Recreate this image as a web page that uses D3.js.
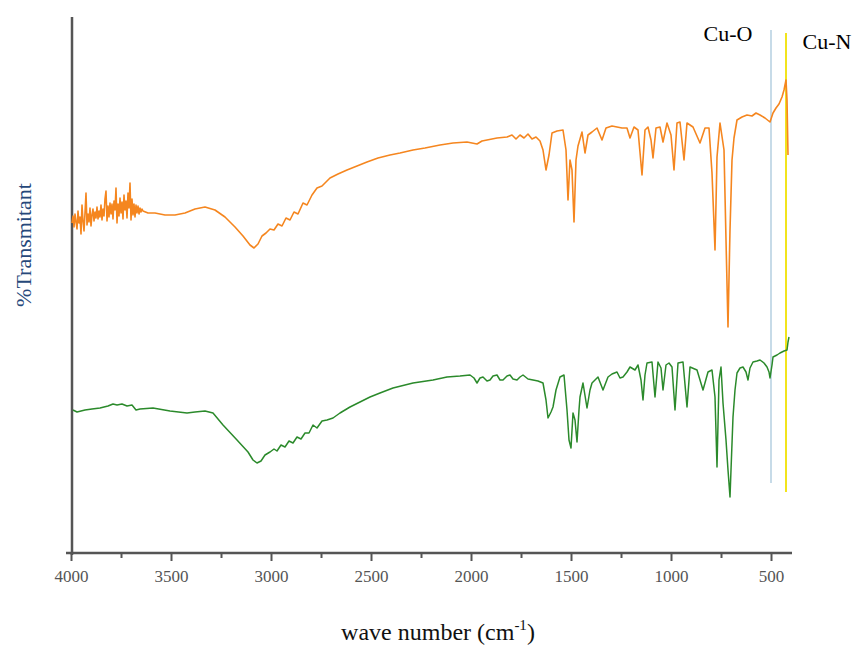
<!DOCTYPE html>
<html>
<head>
<meta charset="utf-8">
<style>
    body { margin: 0; background: #fff; }
    svg { display: block; }
</style>
</head>
<body>
<svg id="chart" width="857" height="646"></svg>
<script src="https://cdn.jsdelivr.net/npm/d3@7"></script>
<script>
    // wavenumber (cm-1), transmittance (arbitrary %T)
    const orangeSpectrum = [
        [3995,66.0],[3990,67.4],[3985,65.2],[3980,67.8],[3975,66.2],[3970,64.8],[3965,68.4],[3960,66.0],
        [3955,67.2],[3950,63.8],[3945,69.6],[3940,66.4],[3935,64.4],[3930,68.0],[3925,72.0],[3920,65.6],
        [3915,67.8],[3910,66.2],[3905,69.0],[3900,65.4],[3895,67.6],[3890,68.8],[3885,66.4],[3880,68.2],
        [3875,67.0],[3870,69.2],[3865,66.8],[3860,68.4],[3855,67.2],[3850,69.6],[3845,66.6],[3840,68.8],
        [3835,67.4],[3830,70.8],[3825,72.4],[3820,66.4],[3815,69.4],[3810,67.2],[3805,70.0],[3800,67.8],
        [3795,69.8],[3790,66.8],[3785,70.4],[3780,68.6],[3775,73.0],[3770,66.0],[3765,69.8],[3760,67.4],
        [3755,71.0],[3750,68.0],[3745,70.2],[3740,66.8],[3735,71.6],[3730,68.6],[3725,70.4],[3720,67.0],
        [3715,72.0],[3710,69.0],[3705,74.0],[3700,66.6],[3695,70.8],[3690,67.6],[3685,69.8],[3680,67.2],
        [3675,69.6],[3670,68.0],[3665,69.4],[3660,67.8],[3655,69.0],[3650,68.2],[3645,68.8],[3640,68.4],
        [3615,68.0],[3580,68.0],[3530,67.6],[3480,67.6],
        [3430,68.0],[3380,68.8],[3330,69.2],[3280,68.6],[3230,67.2],[3180,65.2],[3140,63.4],[3105,61.6],
        [3085,61.0],[3065,61.8],[3045,63.4],[3025,64.0],[3005,64.8],[2985,64.6],[2965,65.8],[2945,65.4],
        [2925,67.0],[2905,66.6],[2885,68.2],[2865,67.8],[2840,70.0],[2820,69.6],[2795,71.6],[2770,73.0],
        [2745,73.4],[2705,75.0],[2665,75.8],[2620,76.6],[2570,77.4],[2520,78.2],[2465,79.0],[2405,79.6],
        [2355,80.0],[2290,80.6],[2230,81.0],[2155,81.6],[2090,82.0],[2020,82.2],[1970,81.8],[1945,82.4],
        [1920,82.6],[1870,83.0],[1820,83.2],[1795,83.6],[1775,82.8],[1755,83.6],[1735,83.0],[1715,83.8],
        [1695,82.8],[1675,83.2],[1655,82.4],[1640,80.6],[1625,76.6],[1610,79.6],[1595,84.0],[1570,84.4],
        [1540,84.6],[1525,80.6],[1515,70.6],[1505,78.6],[1495,76.6],[1485,66.2],[1475,78.6],[1465,81.4],
        [1445,84.2],[1430,80.0],[1415,83.6],[1395,84.2],[1370,85.0],[1345,82.6],[1325,85.0],[1295,85.4],
        [1270,85.2],[1245,85.0],[1220,85.0],[1205,83.0],[1185,85.2],[1165,84.6],[1145,75.6],[1130,84.6],
        [1115,85.2],[1100,82.6],[1090,79.0],[1075,85.0],[1055,85.2],[1040,82.2],[1020,86.0],[1000,83.6],
        [985,76.6],[970,86.0],[955,86.2],[935,78.6],[920,86.0],[890,85.2],[855,82.0],[830,85.0],
        [810,85.0],[795,76.0],[780,60.6],[770,79.2],[755,86.0],[735,80.6],[725,62.6],[715,45.2],
        [705,64.6],[695,78.6],[685,83.0],[670,86.6],[645,87.2],[620,87.6],[595,87.4],[575,88.0],
        [555,87.6],[530,87.0],[505,86.2],[490,88.0],[475,89.0],[460,89.8],[445,91.2],[435,92.6],
        [425,94.6],[420,90.6],[415,79.6]
    ];

    const greenSpectrum = [
        [3990,28.6],[3970,28.2],[3930,28.6],[3895,28.8],[3855,29.0],[3815,29.4],[3790,29.8],[3770,29.6],
        [3745,29.8],[3720,29.4],[3695,29.6],[3675,28.6],[3655,28.8],[3590,29.0],[3505,28.4],[3420,28.0],
        [3380,28.2],[3330,28.4],[3290,28.0],[3240,25.6],[3170,22.6],[3115,20.2],[3090,18.6],[3070,18.0],
        [3050,18.4],[3030,19.6],[3005,20.2],[2985,20.8],[2970,20.4],[2950,21.6],[2930,21.2],[2910,22.4],
        [2890,22.0],[2870,23.2],[2850,22.8],[2830,24.0],[2810,24.0],[2790,25.6],[2770,25.0],[2745,26.4],
        [2720,26.6],[2690,27.0],[2655,28.0],[2605,29.2],[2555,30.2],[2505,31.2],[2455,32.0],[2390,33.0],
        [2290,34.0],[2190,34.6],[2120,35.2],[2055,35.4],[2005,35.6],[1985,35.0],[1970,34.0],[1955,35.0],
        [1940,35.2],[1920,34.4],[1905,34.6],[1890,35.4],[1870,35.6],[1855,34.6],[1840,34.6],[1820,35.4],
        [1805,35.6],[1790,34.8],[1770,34.6],[1755,35.2],[1740,35.6],[1715,34.8],[1690,34.6],[1665,34.4],
        [1640,34.0],[1625,30.6],[1615,27.0],[1600,28.2],[1590,29.2],[1575,32.6],[1555,35.2],[1535,35.6],
        [1520,28.6],[1510,22.6],[1500,21.0],[1490,28.0],[1480,26.6],[1470,22.2],[1460,28.6],[1455,31.2],
        [1440,34.0],[1420,29.0],[1405,32.6],[1395,34.0],[1365,35.2],[1340,32.6],[1315,35.2],[1295,35.8],
        [1270,36.2],[1255,35.0],[1240,35.2],[1220,36.2],[1205,37.2],[1180,36.6],[1165,37.6],[1150,34.6],
        [1140,30.6],[1130,35.6],[1120,38.0],[1095,38.2],[1080,31.2],[1065,38.2],[1050,37.0],[1040,32.6],
        [1025,37.6],[1010,38.0],[995,37.2],[980,28.6],[965,38.0],[940,38.2],[920,29.2],[905,37.2],
        [870,36.6],[840,32.6],[815,36.2],[795,36.6],[780,31.2],[770,17.2],[760,34.6],[750,37.2],
        [740,30.0],[725,22.6],[715,16.6],[705,11.2],[700,16.6],[690,27.2],[680,32.6],[670,36.0],
        [655,37.0],[640,37.2],[625,36.2],[615,34.6],[605,37.0],[590,38.2],[570,38.4],[555,38.6],
        [535,38.0],[520,37.2],[510,36.2],[505,35.0],[495,37.6],[490,39.2],[470,39.6],[455,40.0],
        [435,40.4],[420,40.6],[415,42.2],[410,43.2]
    ];

    const majorTicks = [4000, 3500, 3000, 2500, 2000, 1500, 1000, 500];
    const minorTicks = [3750, 3250, 2750, 2250, 1750, 1250, 750];

    // band markers: label, wavenumber, top and bottom in %T
    const markerLabels = ["Cu-O", "Cu-N"];
    const markerWn = [500, 425];
    const markerTop = [104.6, 104.0];
    const markerBottom = [14.0, 12.2];
    const markerColors = ["#a9c8dc", "#f2e41c"];

    const svg = d3.select("#chart");

    const x = d3.scaleLinear().domain([4000, 400]).range([71, 791]);
    const y = d3.scaleLinear().domain([0, 107.2]).range([553, 17]);

    // axes
    const xAxisMajor = d3.axisBottom(x).tickValues(majorTicks).tickSize(8).tickPadding(9)
        .tickFormat(d3.format("d")).tickSizeOuter(0);
    const xAxisMinor = d3.axisBottom(x).tickValues(minorTicks).tickSize(5).tickFormat("").tickSizeOuter(0);

    let gx = svg.append("g").attr("transform", "translate(0,553)").call(xAxisMajor);
    gx.select(".domain").remove();
    gx.selectAll(".tick line").attr("stroke", "#555").attr("stroke-width", 2);
    gx.selectAll(".tick text")
        .attr("font-family", "Liberation Serif, serif")
        .attr("font-size", 17).attr("fill", "#555");

    let gxm = svg.append("g").attr("transform", "translate(0,553)").call(xAxisMinor);
    gxm.select(".domain").remove();
    gxm.selectAll(".tick line").attr("stroke", "#555").attr("stroke-width", 2);

    svg.append("line")
        .attr("x1", 66).attr("x2", x(395))
        .attr("y1", 553).attr("y2", 553)
        .attr("stroke", "#555").attr("stroke-width", 2.5);

    svg.append("line")
        .attr("x1", 72).attr("x2", 72)
        .attr("y1", 17).attr("y2", 555)
        .attr("stroke", "#555").attr("stroke-width", 2.5);

    // marker lines
    markerWn.forEach((w, i) => {
        svg.append("line")
            .attr("x1", x(w)).attr("x2", x(w))
            .attr("y1", y(markerTop[i])).attr("y2", y(markerBottom[i]))
            .attr("stroke", markerColors[i]).attr("stroke-width", i == 0 ? 1.3 : 2);
    });

    // spectra
    let line = d3.line().x(d => x(d[0])).y(d => y(d[1]));

    svg.append("path")
        .datum(greenSpectrum)
        .attr("d", line)
        .attr("fill", "none")
        .attr("stroke", "#2b8a2b")
        .attr("stroke-width", 1.5)
        .attr("stroke-linejoin", "round");

    svg.append("path")
        .datum(orangeSpectrum)
        .attr("d", line)
        .attr("fill", "none")
        .attr("stroke", "#f5861f")
        .attr("stroke-width", 1.6)
        .attr("stroke-linejoin", "round");

    // labels
    svg.append("text")
        .attr("x", 728).attr("y", 41)
        .attr("text-anchor", "middle")
        .attr("font-family", "Liberation Serif, serif")
        .attr("font-size", 22)
        .text(markerLabels[0]);

    svg.append("text")
        .attr("x", 827).attr("y", 49)
        .attr("text-anchor", "middle")
        .attr("font-family", "Liberation Serif, serif")
        .attr("font-size", 22)
        .text(markerLabels[1]);

    svg.append("text")
        .attr("transform", "translate(31,245) rotate(-90)")
        .attr("text-anchor", "middle")
        .attr("font-family", "Liberation Serif, serif")
        .attr("font-size", 22)
        .attr("fill", "#26487a")
        .text("%Transmitant");

    let xt = svg.append("text")
        .attr("x", 438).attr("y", 640)
        .attr("text-anchor", "middle")
        .attr("font-family", "Liberation Serif, serif")
        .attr("font-size", 24)
        .attr("fill", "#111");
    xt.append("tspan").text("wave number (cm");
    xt.append("tspan").attr("dy", -10).attr("font-size", 15).text("-1");
    xt.append("tspan").attr("dy", 10).text(")");
</script>
</body>
</html>
